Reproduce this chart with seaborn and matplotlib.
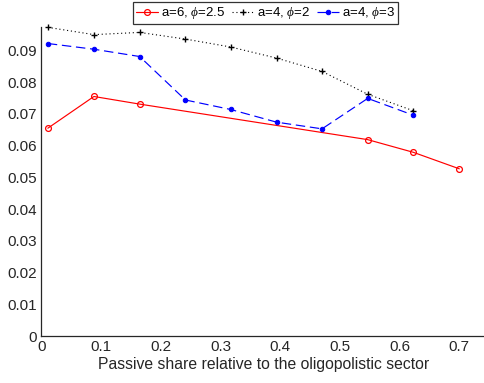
import matplotlib
matplotlib.use("Agg")
import matplotlib.pyplot as plt
import seaborn as sns
import pandas as pd

# data
x_red = [0.0106, 0.0878, 0.1644, 0.5465, 0.623, 0.700]
y_red = [0.0655, 0.0755, 0.0731, 0.0619, 0.0579, 0.0527]
x_blk = [0.0106, 0.0878, 0.1644, 0.2411, 0.317, 0.394, 0.470, 0.5465, 0.623]
y_blk = [0.0973, 0.0950, 0.0957, 0.0936, 0.0911, 0.0876, 0.0834, 0.0762, 0.0710]
x_blu = [0.0106, 0.0878, 0.1644, 0.2411, 0.317, 0.394, 0.470, 0.5465, 0.623]
y_blu = [0.0922, 0.0904, 0.0881, 0.0744, 0.0714, 0.0674, 0.0653, 0.0749, 0.0696]
labels = [r"a=6, $\phi$=2.5", r"a=4, $\phi$=2", r"a=4, $\phi$=3"]
xticks = [0, 0.1, 0.2, 0.3, 0.4, 0.5, 0.6, 0.7]
yticks = [0, 0.01, 0.02, 0.03, 0.04, 0.05, 0.06, 0.07, 0.08, 0.09]
xlabel = "Passive share relative to the oligopolistic sector"

sns.set_style("white")
plt.rcParams['font.family'] = ['Liberation Sans', 'DejaVu Sans']
plt.rcParams['mathtext.fontset'] = 'custom'
plt.rcParams['mathtext.it'] = 'Liberation Serif:italic'
plt.rcParams['mathtext.rm'] = 'Liberation Sans'

fig = plt.figure(figsize=(4.85, 3.83), dpi=100)
ax = fig.add_axes([41.5/485, 1-336/383, 1-41.5/485, (336-26.7)/383])

txtc = '#262626'
sns.lineplot(x=x_red, y=y_red, ax=ax, color='#ff0000', lw=0.85, marker='o',
             markersize=4.2, markerfacecolor='none', markeredgecolor='#ff0000',
             markeredgewidth=0.9, label=labels[0], clip_on=False)
sns.lineplot(x=x_blk, y=y_blk, ax=ax, color='black', lw=0.8, linestyle=(0, (1, 2.5)),
             marker='+', markersize=4.2, markeredgewidth=1.0, markeredgecolor='black',
             label=labels[1], clip_on=False)
sns.lineplot(x=x_blu, y=y_blu, ax=ax, color='#0000ff', lw=0.85, linestyle=(0, (8, 4)),
             marker='o', markersize=3.2, markerfacecolor='#0000ff', markeredgecolor='#0000ff',
             label=labels[2], clip_on=False)

ax.set_xlim(0, 0.743)
ax.set_ylim(0, 0.0975)
ax.set_xticks(xticks)
ax.set_xticklabels([f"{t:g}" for t in xticks])
ax.set_yticks(yticks)
ax.set_yticklabels([f"{t:g}" for t in yticks])
ax.set_xlabel(xlabel, fontsize=11.3, color=txtc, labelpad=2)
for s in ['top', 'right']:
    ax.spines[s].set_visible(False)
for s in ['left', 'bottom']:
    ax.spines[s].set_color(txtc)
    ax.spines[s].set_linewidth(0.9)
ax.tick_params(direction='in', length=4, width=0.8, colors=txtc, labelsize=11, pad=3)

leg = ax.legend(loc='upper center', bbox_to_anchor=(265.5/485, 1 - 2.5/383), bbox_transform=fig.transFigure,
                ncol=3, frameon=True, fontsize=9.5, handlelength=1.7, handletextpad=0.2,
                columnspacing=0.5, borderpad=0.2, borderaxespad=0.0, fancybox=False)
leg.get_frame().set_edgecolor('black')
leg.get_frame().set_linewidth(0.9)
for t in leg.get_texts():
    t.set_color('black')

fig.savefig("out.png", dpi=100)
